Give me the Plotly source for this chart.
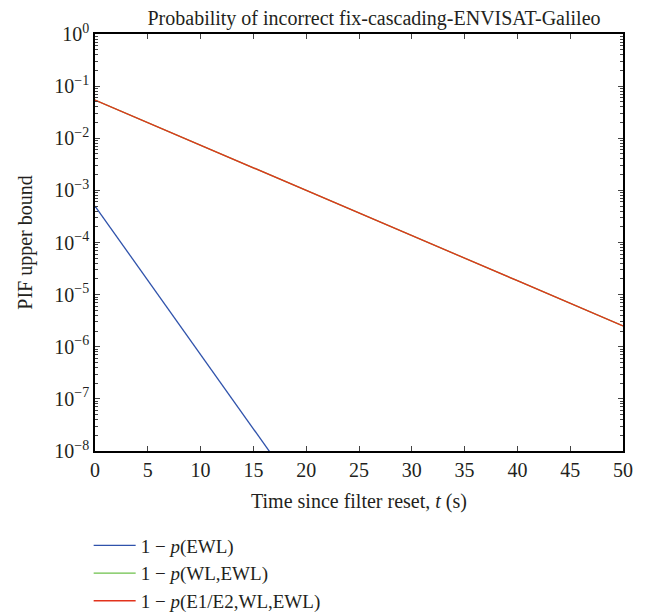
import plotly.graph_objects as go

# Data
t_ewl = [0, 5, 10, 15, 20]
p_ewl = [5.0e-4, 1.9e-5, 7.1e-7, 2.7e-8, 1.0e-9]

t_wl = [0, 10, 20, 30, 40, 50]
p_wl = [0.054, 7.4e-3, 1.0e-3, 1.35e-4, 1.85e-5, 2.5e-6]

t_e12 = [0, 10, 20, 30, 40, 50]
p_e12 = [0.054, 7.4e-3, 1.0e-3, 1.35e-4, 1.85e-5, 2.5e-6]

x_ticks = [0, 5, 10, 15, 20, 25, 30, 35, 40, 45, 50]
y_exps = [0, -1, -2, -3, -4, -5, -6, -7, -8]

FONT = "Liberation Serif"
TXT = "#231f20"
FS = 20

fig = go.Figure()
fig.add_trace(go.Scatter(x=t_ewl, y=p_ewl, mode="lines", name="1 − <i>p</i>(EWL)",
                         line=dict(color="#2f52ab", width=1.3)))
fig.add_trace(go.Scatter(x=t_wl, y=p_wl, mode="lines", name="1 − <i>p</i>(WL,EWL)",
                         line=dict(color="#6cc04a", width=1.3)))
fig.add_trace(go.Scatter(x=t_e12, y=p_e12, mode="lines", name="1 − <i>p</i>(E1/E2,WL,EWL)",
                         line=dict(color="#e2321c", width=1.3)))

yvals = [10.0 ** e for e in y_exps]
ytext = ["10<sup>%s</sup>" % (str(e).replace("-", "−")) for e in y_exps]

W, H = 645, 605
fig.update_layout(
    width=W, height=H,
    margin=dict(l=87, r=30, t=26, b=162, autoexpand=False),
    paper_bgcolor="white", plot_bgcolor="white",
    font=dict(family=FONT, size=FS, color=TXT),
    title=dict(text="Probability of incorrect fix-cascading-ENVISAT-Galileo",
               x=366 / W, xref="container", xanchor="center",
               y=1 - 10 / H, yanchor="middle",
               font=dict(family=FONT, size=FS, color=TXT)),
    showlegend=True,
    legend=dict(x=-0.012, xanchor="left", y=-0.181, yanchor="top", orientation="v",
                itemwidth=42,
                font=dict(family=FONT, size=19, color=TXT), bgcolor="rgba(0,0,0,0)"),
    xaxis=dict(range=[0, 50], tickvals=x_ticks, ticks="inside", ticklen=5,
               showline=True, linecolor="black", linewidth=1.5, mirror="ticks",
               showgrid=False, zeroline=False, automargin=False,
               title=dict(text="Time since filter reset, <i>t</i> (s)", standoff=14,
                          font=dict(family=FONT, size=FS, color=TXT)),
               tickfont=dict(family=FONT, size=FS, color=TXT)),
    yaxis=dict(type="log", range=[-8, 0], tickvals=yvals, ticktext=ytext,
               ticks="inside", ticklen=5,
               minor=dict(ticks="inside", ticklen=3, dtick="D1", showgrid=False),
               showline=True, linecolor="black", linewidth=1.5, mirror="ticks",
               showgrid=False, zeroline=False, automargin=False,
               title=dict(text="PIF upper bound", standoff=16,
                          font=dict(family=FONT, size=FS, color=TXT)),
               tickfont=dict(family=FONT, size=FS, color=TXT)),
)

fig.write_html("out.html")
